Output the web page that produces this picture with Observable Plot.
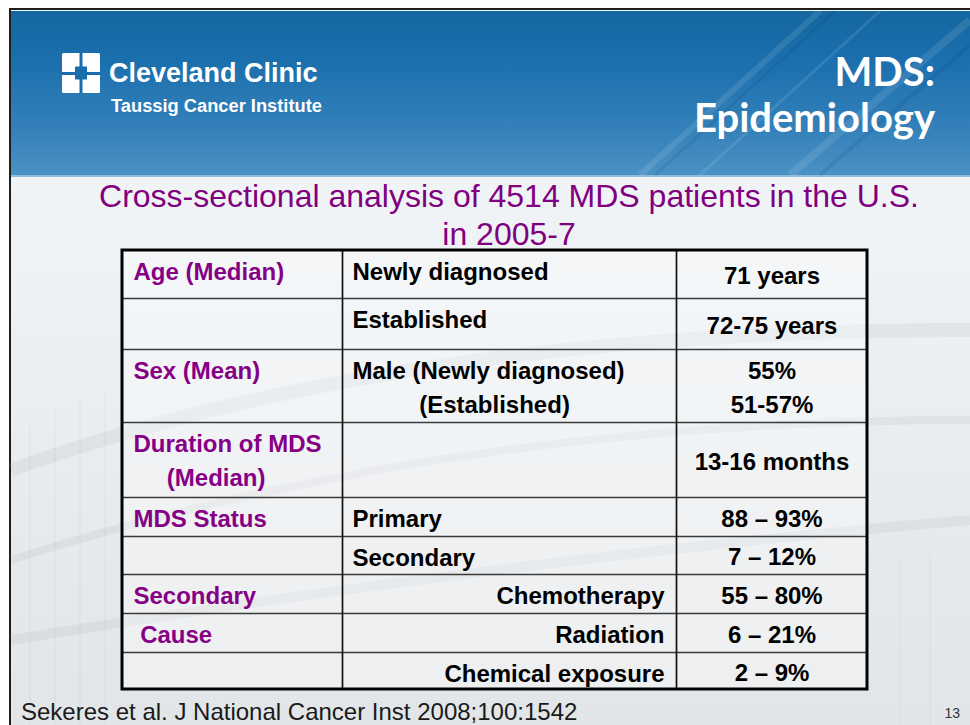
<!DOCTYPE html>
<html>
<head>
<meta charset="utf-8">
<script src="https://cdn.jsdelivr.net/npm/d3@7"></script>
<script src="https://cdn.jsdelivr.net/npm/@observablehq/plot@0.6"></script>
<style>
  html, body { margin: 0; padding: 0; background: #ffffff; }
  #slide { position: relative; width: 970px; height: 725px; overflow: hidden; background: #ffffff; font-family: "Liberation Sans", Arial, sans-serif; }
  #frame { position: absolute; left: 9px; top: 8px; width: 980px; height: 740px; box-sizing: border-box;
           border-left: 2.5px solid #1e1e1e; border-top: 2.5px solid #1e1e1e;
           background: linear-gradient(180deg, #f3f7fa 0px, #eef2f5 260px, #e6e9ec 560px, #e2e5e8 740px); }
  #header { position: absolute; left: 11px; top: 11px; width: 970px; height: 164px;
            background: linear-gradient(180deg, #14679f 0%, #1b6fad 30%, #3682bb 75%, #4a92c4 100%); }
  #headerline { position: absolute; left: 11px; top: 175px; width: 970px; height: 2px; background: #8fbbdc; }
  #decor { position: absolute; left: 0; top: 0; }
  .abs { position: absolute; white-space: nowrap; }
  #brand1 { left: 109px; top: 60px; font: bold 27px/27px "Liberation Sans", Arial, sans-serif; color: #fff; }
  #brand2 { left: 111px; top: 97px; font: bold 18.3px/18px "Liberation Sans", Arial, sans-serif; color: #fff; }
  #heading { right: 35px; top: 48px; text-align: right; font: bold 40px/46px Lato, "Open Sans", sans-serif; color: #fff; }
  #title { left: 9px; top: 177px; width: 1000px; text-align: center; font: 32px/38px "Liberation Sans", Arial, sans-serif; color: #800080; }
  #footer { left: 21px; top: 700px; font: 24px/24px "Liberation Sans", Arial, sans-serif; color: #1a1a1a; }
  #pagenum { right: 10px; top: 706px; font: 14px/14px "Liberation Sans", Arial, sans-serif; color: #333; }
  #chart { position: absolute; left: 0; top: 0; }
  #chart svg { background: transparent !important; }
</style>
</head>
<body>
<div id="slide">
  <div id="frame"></div>
  <div id="header"></div>
  <div id="headerline"></div>
  <svg id="decor" width="970" height="725">
    <g stroke="#ffffff" stroke-opacity="0.10" fill="none">
      <line x1="640" y1="175" x2="820" y2="11" stroke-width="6"/>
      <line x1="700" y1="175" x2="880" y2="11" stroke-width="3"/>
      <line x1="790" y1="175" x2="970" y2="20" stroke-width="8"/>
    </g>
    <g stroke="#0a3d6b" stroke-opacity="0.12" fill="none">
      <line x1="655" y1="175" x2="835" y2="11" stroke-width="3"/>
      <line x1="820" y1="175" x2="970" y2="45" stroke-width="4"/>
    </g>
    <g stroke="#9aa3aa" stroke-opacity="0.14" fill="none">
      <path d="M11 470 Q 400 330 970 330" stroke-width="14"/>
      <path d="M11 560 Q 450 420 970 420" stroke-width="8"/>
      <path d="M11 640 Q 500 560 970 520" stroke-width="10"/>
    </g>
    <g stroke="#8e979e" stroke-opacity="0.12">
      <line x1="30" y1="420" x2="30" y2="725"/>
      <line x1="55" y1="410" x2="55" y2="725"/>
      <line x1="80" y1="400" x2="80" y2="725"/>
      <line x1="105" y1="395" x2="105" y2="725"/>
      <line x1="900" y1="560" x2="900" y2="725"/>
      <line x1="930" y1="555" x2="930" y2="725"/>
    </g>
  </svg>
  <svg class="abs" style="left:62px;top:53px" width="38" height="40" viewBox="0 0 38 40">
    <rect x="0" y="0" width="38" height="40" rx="1.5" fill="#ffffff"/>
    <rect x="13" y="13.5" width="12" height="13" fill="#1a6dab"/>
    <rect x="17.5" y="0" width="3" height="40" fill="#1a6dab"/>
    <rect x="0" y="19" width="38" height="3" fill="#1a6dab"/>
  </svg>
  <div id="brand1" class="abs">Cleveland Clinic</div>
  <div id="brand2" class="abs">Taussig Cancer Institute</div>
  <div id="heading" class="abs">MDS:<br>Epidemiology</div>
  <div id="title" class="abs">Cross-sectional analysis of 4514 MDS patients in the U.S.<br>in 2005-7</div>
  <div id="chart"></div>
  <div id="footer" class="abs">Sekeres et al. J National Cancer Inst 2008;100:1542</div>
  <div id="pagenum" class="abs">13</div>
</div>
<script>
// ---- data ----
const NB = "\u00a0";
const categories = ["Age (Median)", "", "Sex (Mean)", "Duration of MDS\n" + NB.repeat(5) + "(Median)", "MDS Status", "", "Secondary", NB + "Cause", ""];
const measures = ["Newly diagnosed", "Established", "Male (Newly diagnosed)\n" + NB.repeat(10) + "(Established)", "", "Primary", "Secondary", "Chemotherapy", "Radiation", "Chemical exposure"];
const values = ["71 years", "72-75 years", "55%\n51-57%", "13-16 months", "88 – 93%", "7 – 12%", "55 – 80%", "6 – 21%", "2 – 9%"];

// ---- layout (table geometry in table units) ----
const colEdges = [0, 220, 554, 745];
const rowHeights = [48, 51, 73, 75, 39, 38, 39, 39, 37];
const rowEdges = [0, ...d3.cumsum(rowHeights)];
const total = rowEdges[rowEdges.length - 1];
const rightAlignedFrom = 6;

const cells = categories.map((c, i) => ({
  row: i,
  top: rowEdges[i],
  bottom: rowEdges[i + 1],
  mid: (rowEdges[i] + rowEdges[i + 1]) / 2,
  category: c,
  measure: measures[i],
  value: values[i]
}));

const purple = "#860086";
const textStyle = {fontSize: 24, fontWeight: "bold", lineHeight: 1.4};

const chart = Plot.plot({
  width: 970,
  height: 725,
  margin: 0,
  x: {domain: [0, colEdges[3]], range: [122, 867], axis: null},
  y: {domain: [0, total], range: [250, 689], axis: null},
  style: {background: "transparent", fontFamily: "'Liberation Sans', Arial, sans-serif", overflow: "visible"},
  marks: [
    Plot.rect(cells, {x1: () => colEdges[0], x2: () => colEdges[3], y1: "top", y2: "bottom", fill: "#ffffff", fillOpacity: 0.35}),
    Plot.ruleY(rowEdges.slice(1, -1), {x1: colEdges[0], x2: colEdges[3], stroke: "#3a3a3a", strokeWidth: 1.7}),
    Plot.ruleX(colEdges.slice(1, -1), {y1: 0, y2: total, stroke: "#111111", strokeWidth: 1.7}),
    Plot.rect([0], {x1: () => colEdges[0], x2: () => colEdges[3], y1: () => 0, y2: () => total, fill: "none", stroke: "#000000", strokeWidth: 3}),
    Plot.text(cells, {x: () => colEdges[0], y: "top", text: "category", textAnchor: "start", lineAnchor: "top", dx: 11, dy: 6, fill: purple, ...textStyle}),
    Plot.text(cells.filter(d => d.row < rightAlignedFrom), {x: () => colEdges[1], y: "top", text: "measure", textAnchor: "start", lineAnchor: "top", dx: 10, dy: 6, fill: "#000", ...textStyle}),
    Plot.text(cells.filter(d => d.row >= rightAlignedFrom), {x: () => colEdges[2], y: "top", text: "measure", textAnchor: "end", lineAnchor: "top", dx: -12, dy: 6, fill: "#000", ...textStyle}),
    Plot.text(cells, {x: () => (colEdges[2] + colEdges[3]) / 2, y: "mid", text: "value", textAnchor: "middle", lineAnchor: "middle", dy: -1, fill: "#000", ...textStyle})
  ]
});
document.getElementById("chart").appendChild(chart);
</script>
</body>
</html>
